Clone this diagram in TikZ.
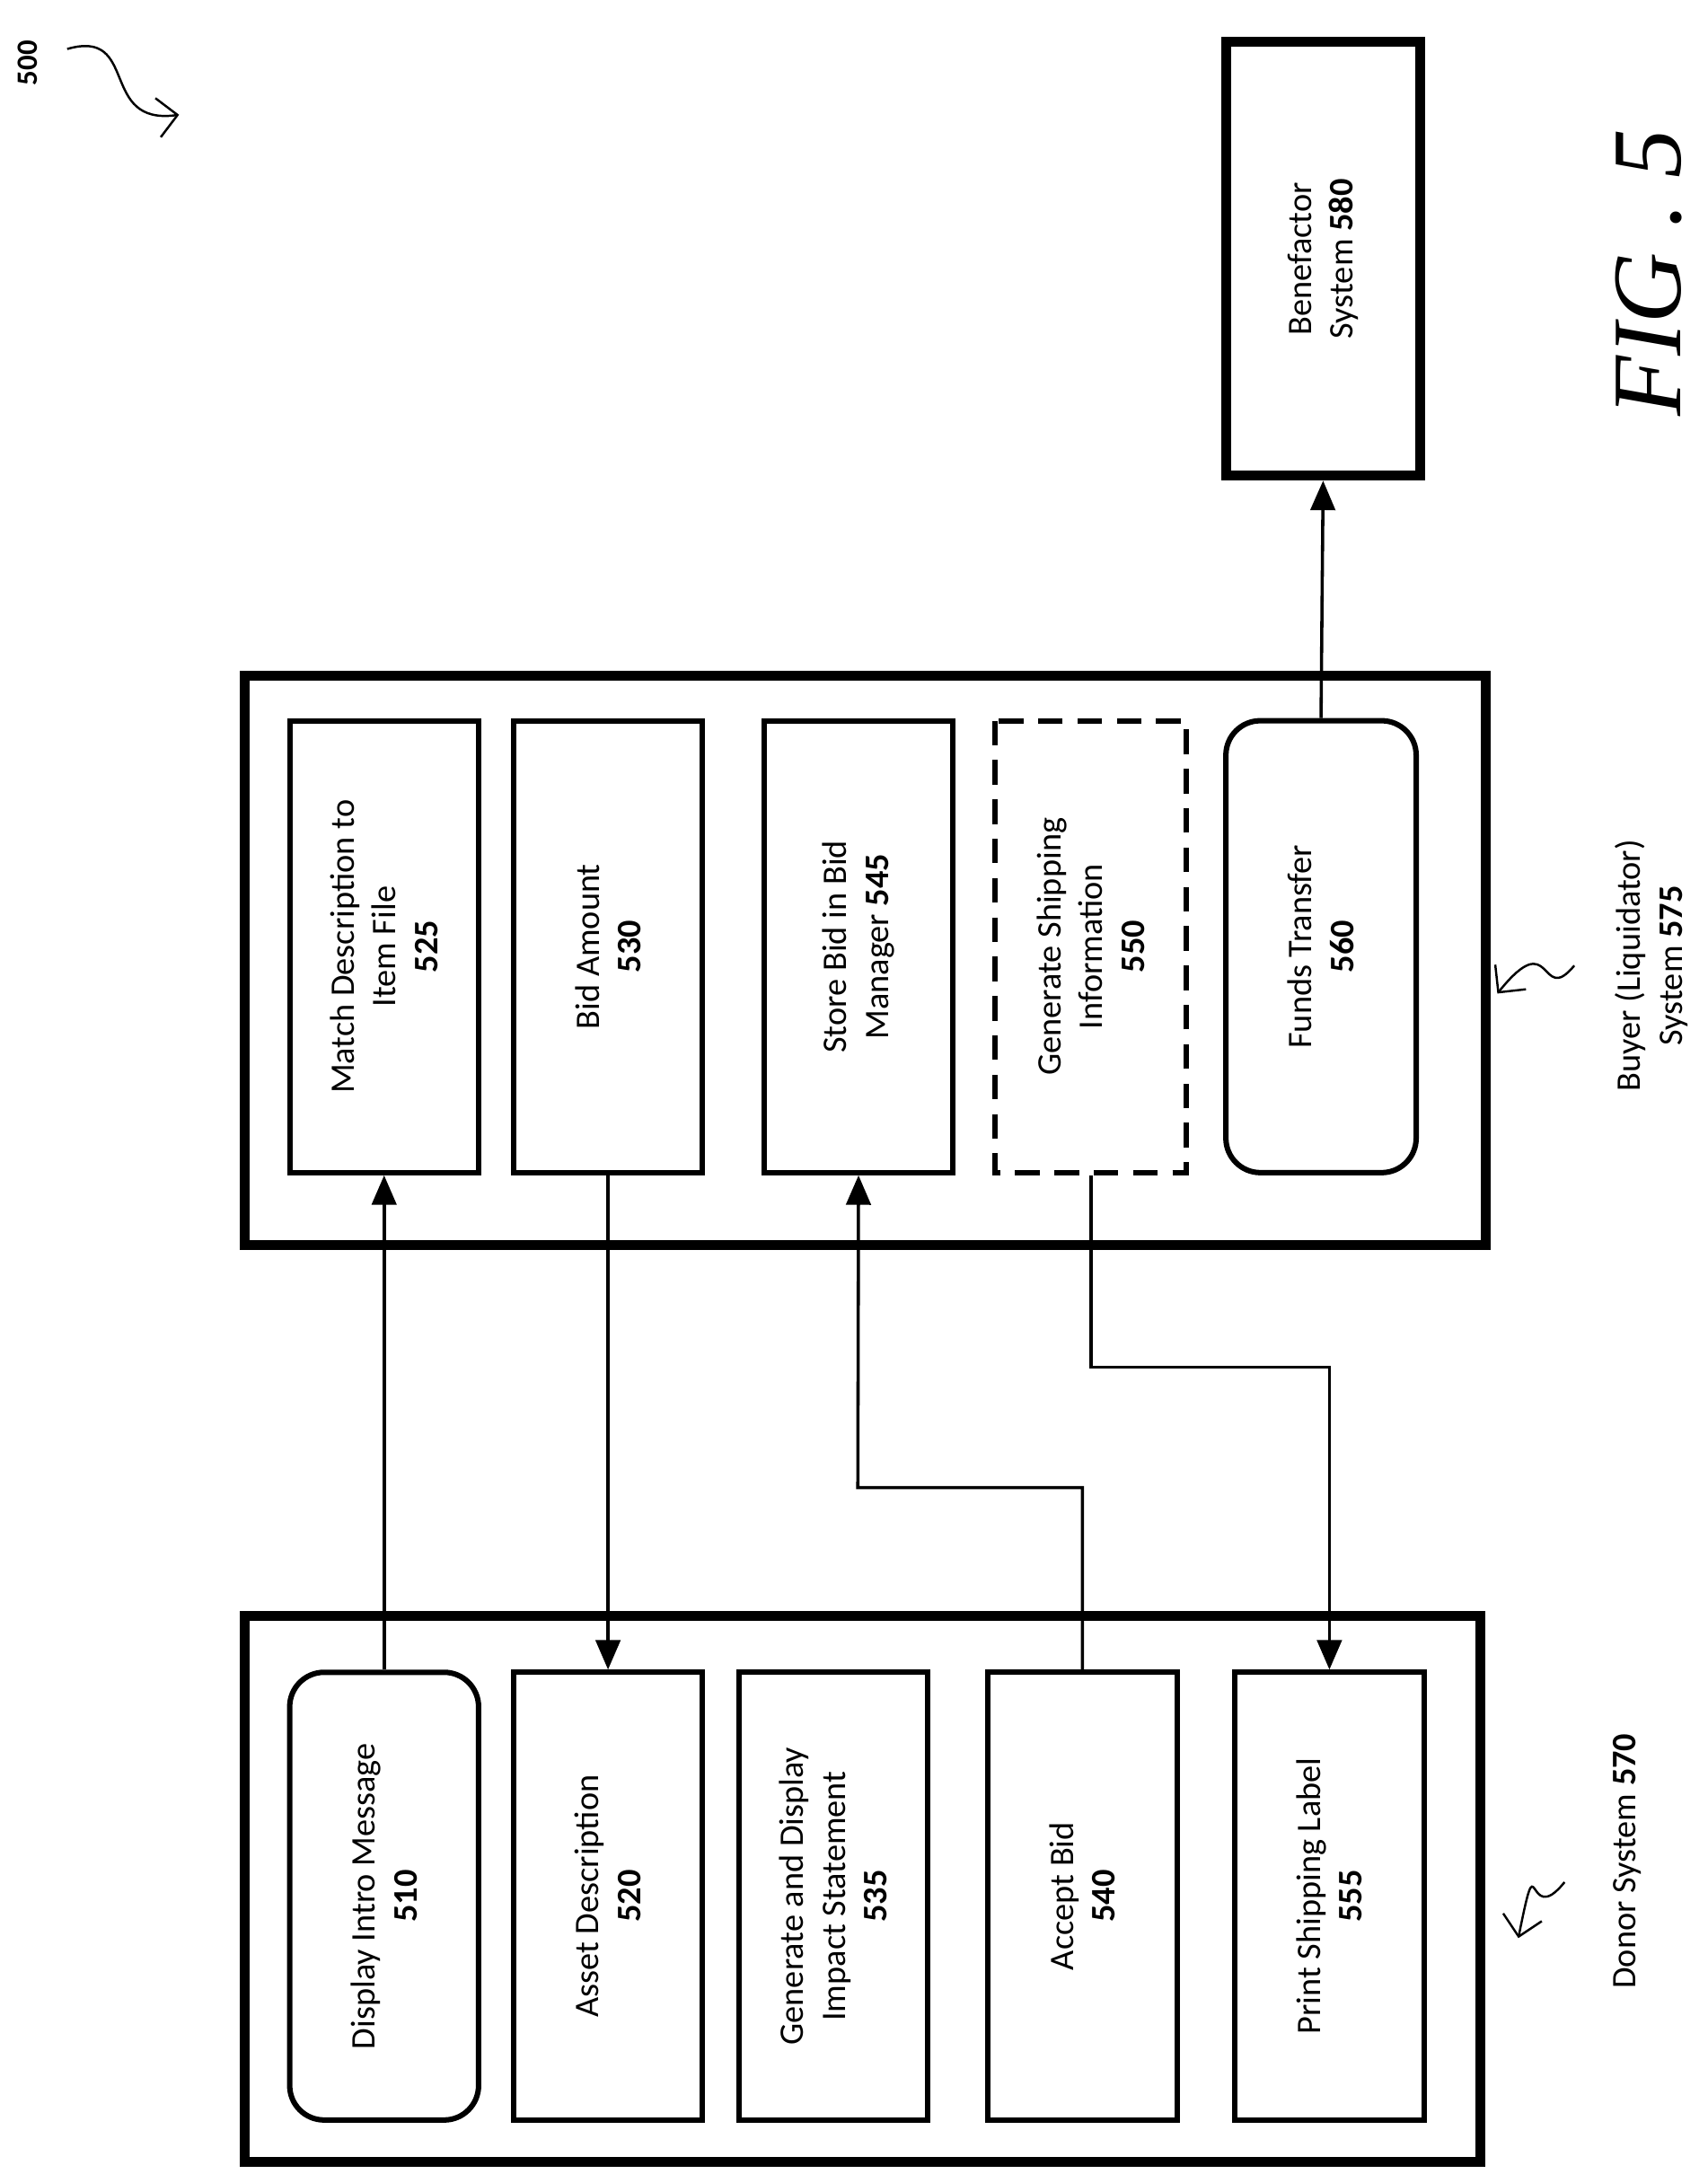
\documentclass[tikz,border=0pt]{standalone}
\usepackage{fontspec}
\setmainfont{Carlito}
\usetikzlibrary{arrows.meta}
\tikzset{
  box/.style={draw, line width=2.2pt, rotate=90, align=center, inner sep=2pt,
    font=\fontsize{14}{17}\selectfont},
  frame/.style={draw, line width=4pt},
  link/.style={line width=1.3pt, -{Triangle[length=12pt,width=10pt]}},
}
\begin{document}
\begin{tikzpicture}[x=0.02cm,y=-0.02cm]
    \useasboundingbox (0,0) rectangle (1220,1560);

    % Outer systems
    \draw[frame] (175,1155) rectangle (1058,1545);
    \draw[frame] (175,483) rectangle (1062,890);

    % Donor boxes
    \node[box, rounded corners=14pt, minimum width=6.4cm, minimum height=2.7cm] (b510) at (274.5,1355) {Display Intro Message\\\textbf{510}};
    \node[box, minimum width=6.4cm, minimum height=2.7cm] (b520) at (434.5,1355) {Asset Description\\\textbf{520}};
    \node[box, minimum width=6.4cm, minimum height=2.7cm] (b535) at (595.5,1355) {Generate and Display\\Impact Statement\\\textbf{535}};
    \node[box, minimum width=6.4cm, minimum height=2.7cm] (b540) at (773.5,1355) {Accept Bid\\\textbf{540}};
    \node[box, minimum width=6.4cm, minimum height=2.7cm] (b555) at (950,1355) {Print Shipping Label\\\textbf{555}};

    % Buyer boxes
    \node[box, minimum width=6.46cm, minimum height=2.7cm] (b525) at (274.5,676.5) {Match Description to\\Item File\\\textbf{525}};
    \node[box, minimum width=6.46cm, minimum height=2.7cm] (b530) at (434.5,676.5) {Bid Amount\\\textbf{530}};
    \node[box, minimum width=6.46cm, minimum height=2.7cm] (b545) at (613.5,676.5) {Store Bid in Bid\\Manager \textbf{545}};
    \node[box, dashed, dash pattern=on 10pt off 6pt, minimum width=6.46cm, minimum height=2.74cm] (b550) at (779.5,676.5) {Generate Shipping\\Information\\\textbf{550}};
    \node[box, rounded corners=14pt, minimum width=6.46cm, minimum height=2.72cm] (b560) at (944,676.5) {Funds Transfer\\\textbf{560}};

    % Benefactor
    \node[box, line width=4pt, minimum width=6.2cm, minimum height=2.78cm] (b580) at (945.5,185) {Benefactor\\System \textbf{580}};

    % Connectors
    \draw[link] (b510.east) -- (b525.west);
    \draw[link] (b530.west) -- (b520.east);
    \draw[link] (b540.east) |- (613,1063) -- (b545.west);
    \draw[link] (b550.west) |- (950,977) -- (b555.east);
    \draw[link] (b560.east) -- (b580.west);

    % Labels
    \node[rotate=90, align=center, font=\fontsize{14}{17}\selectfont] (l575) at (1180,690) {Buyer (Liquidator)\\System \textbf{575}};
    \node[rotate=90, font=\fontsize{14}{17}\selectfont] (l570) at (1163,1330) {Donor System \textbf{570}};
    \node[rotate=90, font=\bfseries\fontsize{12}{14}\selectfont] (l500) at (20,45) {500};
    \node[rotate=90, font=\rmfamily\itshape\fontsize{40}{44}\selectfont] (fig) at (1178,195) {\fontspec{Liberation Serif}\itshape FIG . 5};

    % Squiggles
    \draw[line width=0.9pt, -{Straight Barb[length=8pt]}] (1125,690) .. controls (1100,720) and (1110,660) .. (1070,710);
    \draw[line width=0.9pt, -{Straight Barb[length=8pt]}] (1118,1345) .. controls (1090,1380) and (1100,1310) .. (1085,1385);
    \draw[line width=0.9pt, -{Straight Barb[length=8pt]}] (48,35) .. controls (100,20) and (70,90) .. (128,82);
\end{tikzpicture}
\end{document}
